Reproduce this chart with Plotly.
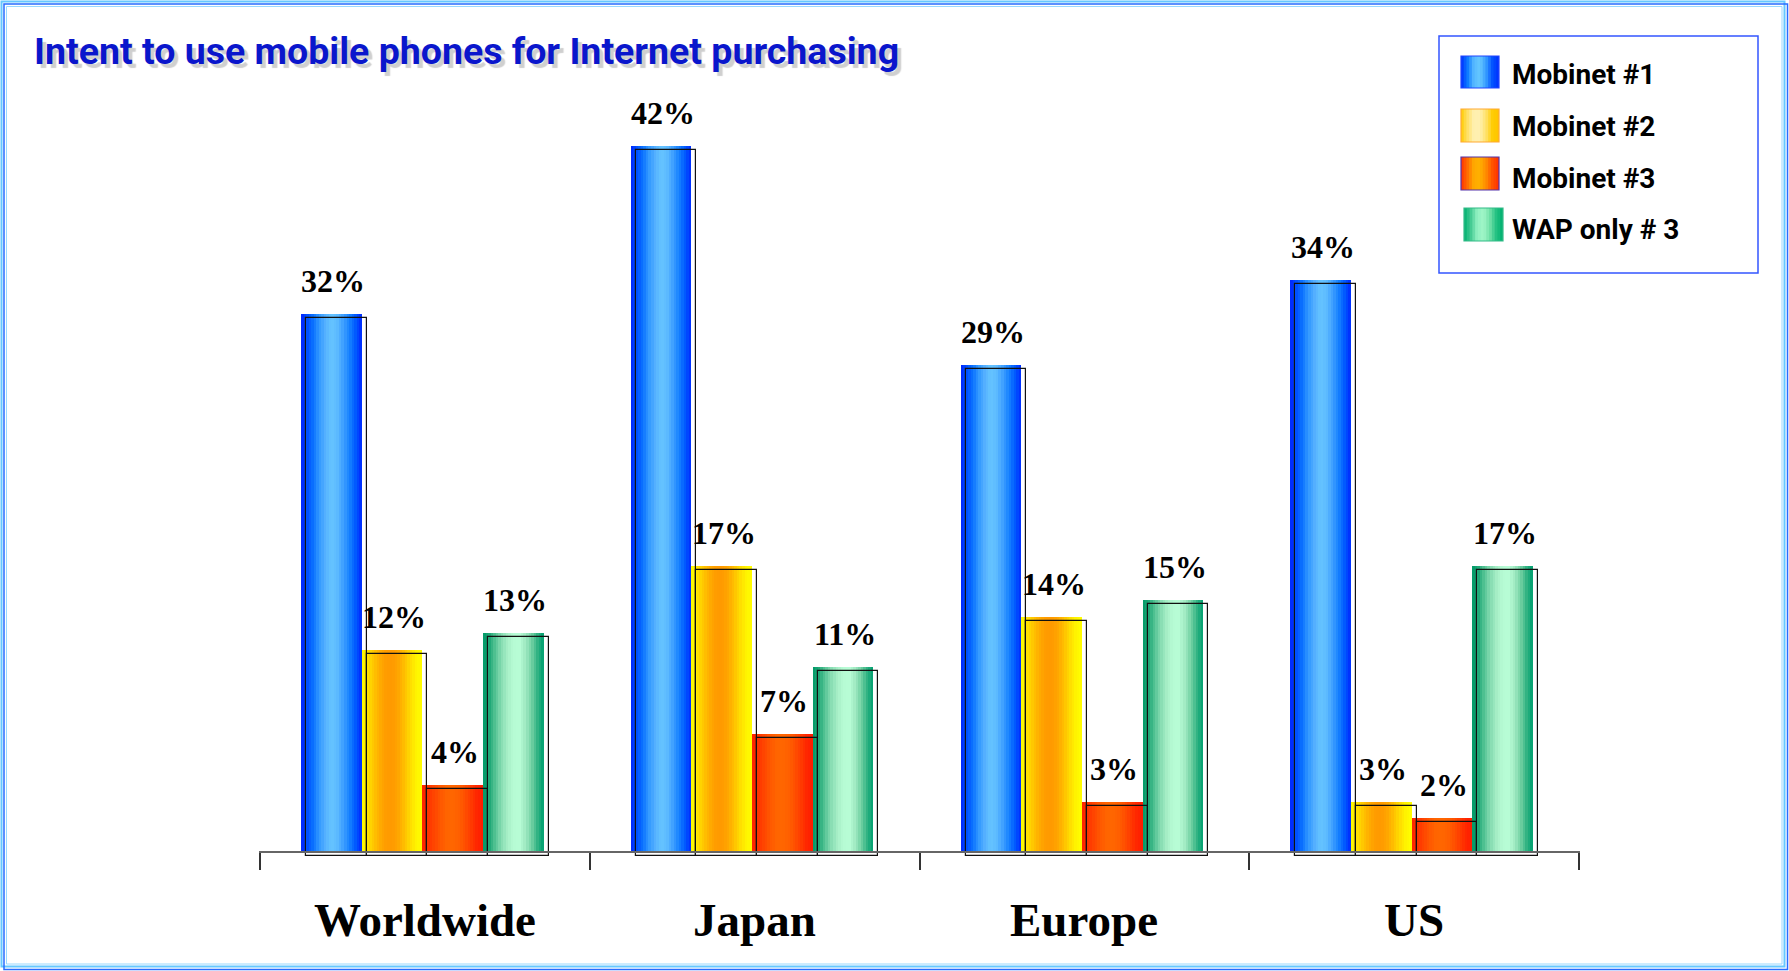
import plotly.graph_objects as go

# ---- data ----
categories = ["Worldwide", "Japan", "Europe", "US"]
series_names = ["Mobinet #1", "Mobinet #2", "Mobinet #3", "WAP only # 3"]
mobinet1 = [32, 42, 29, 34]
mobinet2 = [12, 17, 14, 3]
mobinet3 = [4, 7, 3, 2]
wap_only3 = [13, 11, 15, 17]
series_values = [mobinet1, mobinet2, mobinet3, wap_only3]
title_text = "Intent to use mobile phones for Internet purchasing"

# ---- styling ----
bar_stops = [
    ["#0022ff", "#0050ff", "#0a72ff", "#3399ff", "#55b0ff", "#66c4ff", "#5cbaff", "#3d9eff", "#1480ff", "#0058ff", "#0028ff"],
    ["#ffff00", "#ffe000", "#ffc400", "#ffac00", "#ff9c00", "#ff9900", "#ffa600", "#ffbe00", "#ffdc00", "#fff400", "#ffff00"],
    ["#ff2200", "#ff3300", "#ff4600", "#ff5800", "#ff6400", "#ff6600", "#ff6000", "#ff5000", "#ff3c00", "#ff2600", "#ff1a00"],
    ["#009966", "#1fa877", "#55c394", "#86dcb2", "#a6eec6", "#b6fbd4", "#b8fdd6", "#a0eac2", "#70d0a2", "#2fb282", "#00a070"],
]
swatch_stops = [
    ["#0030ff", "#0a78ff", "#55b8ff", "#66c8ff", "#3399ff", "#0050ff", "#0030ff"],
    ["#ffcc00", "#ffe066", "#fff0b0", "#fff0b0", "#ffe066", "#ffcc00", "#ffc400"],
    ["#ff3300", "#ff6a00", "#ffaa00", "#ffb000", "#ff8800", "#ff5000", "#ff3000"],
    ["#00b070", "#40c890", "#90f0c0", "#a0f6c8", "#70e0a8", "#20c080", "#00b070"],
]
swatch_borders = ["#2244ff", "#ffaa33", "#5533aa", "#33bb88"]

W, H = 1789, 971
ML, MR, MT, MB = 259, 209, 100, 101
PW = W - ML - MR
PH = H - MT - MB
PX_PER_PCT = 16.81
Y_MIN = -((H - MB) - 852) / PX_PER_PCT
Y_MAX = Y_MIN + PH / PX_PER_PCT
X_MIN, X_MAX = -0.503, 3.503
PX_PER_CAT = PW / (X_MAX - X_MIN)

BAR_W = 0.184
GROUP_SHIFT = -2.5 / PX_PER_CAT
N_STRIPS = 24
OUT_DX = 5 / PX_PER_CAT
OUT_DY = 4 / PX_PER_PCT


def hex_to_rgb(h):
    h = h.lstrip("#")
    return tuple(int(h[i:i + 2], 16) for i in (0, 2, 4))


def gradient(stops, n):
    cols = []
    rgb = [hex_to_rgb(c) for c in stops]
    for k in range(n):
        t = (k + 0.5) / n * (len(rgb) - 1)
        i = min(int(t), len(rgb) - 2)
        f = t - i
        c = [round(rgb[i][j] + (rgb[i + 1][j] - rgb[i][j]) * f) for j in range(3)]
        cols.append("rgb(%d,%d,%d)" % tuple(c))
    return cols


def px_x(px):
    return (px - ML) / PW


def px_y(py):
    return (H - MB - py) / PH


xs = list(range(len(categories)))
fig = go.Figure()

# gradient bars built from narrow vertical strips
for s, vals in enumerate(series_values):
    cols = gradient(bar_stops[s], N_STRIPS)
    strip = BAR_W / N_STRIPS
    for k in range(N_STRIPS):
        width = min(strip * 1.5, BAR_W - k * strip)
        fig.add_trace(go.Bar(
            x=xs, y=vals, width=width, offset=GROUP_SHIFT + (s - 2) * BAR_W + k * strip,
            marker=dict(color=cols[k], line=dict(width=0)),
            showlegend=False, hoverinfo="skip",
        ))

# thin offset outline frames drawn on top of the bars
for s, vals in enumerate(series_values):
    fig.add_trace(go.Bar(
        x=xs, y=vals, base=-OUT_DY, width=BAR_W, offset=GROUP_SHIFT + (s - 2) * BAR_W + OUT_DX,
        marker=dict(color="rgba(0,0,0,0)", line=dict(color="#111111", width=1.2)),
        showlegend=False, hoverinfo="skip",
    ))

annotations = []
# value labels above each bar
for s, vals in enumerate(series_values):
    for i, v in enumerate(vals):
        annotations.append(dict(
            x=i + GROUP_SHIFT + (s - 2) * BAR_W + BAR_W / 2, y=v, xref="x", yref="y",
            text="<b>%d%%</b>" % v, showarrow=False, yanchor="bottom", xshift=2, yshift=13,
            font=dict(family="Liberation Serif, Times New Roman, serif", size=32, color="#000000"),
        ))

# category labels under the axis
for i, c in enumerate(categories):
    annotations.append(dict(
        x=i, y=px_y(920), xref="x", yref="paper", text="<b>%s</b>" % c, showarrow=False,
        yanchor="middle", xanchor="center",
        font=dict(family="Liberation Serif, Times New Roman, serif", size=47, color="#000000"),
    ))

# title with soft grey drop shadow
title_font = "Roboto, Liberation Sans, Arial, sans-serif"
annotations.append(dict(
    x=px_x(32), y=px_y(51), xref="paper", yref="paper", text="<b>%s</b>" % title_text,
    showarrow=False, xanchor="left", yanchor="middle",
    font=dict(family=title_font, size=37.5, color="#0a16cc", shadow="4px 4px 1px #cfcfcf"),
))

shapes = []
# page frame
shapes.append(dict(type="rect", xref="paper", yref="paper", x0=px_x(1.5), x1=px_x(1784.5),
                   y0=px_y(966.5), y1=px_y(1.5), line=dict(color="#66c8ff", width=2)))
shapes.append(dict(type="rect", xref="paper", yref="paper", x0=px_x(4), x1=px_x(1787.5),
                   y0=px_y(969.5), y1=px_y(4), line=dict(color="#2a6cff", width=1.5)))
shapes.append(dict(type="rect", xref="paper", yref="paper", x0=px_x(6.5), x1=px_x(1782),
                   y0=px_y(964), y1=px_y(6.5), line=dict(color="#9ad8ff", width=1)))

# legend box
shapes.append(dict(type="rect", xref="paper", yref="paper", x0=px_x(1439), x1=px_x(1758),
                   y0=px_y(273), y1=px_y(36), line=dict(color="#3355ff", width=1.5)))
swatch_boxes = [(1461, 1499, 56, 88), (1461, 1499, 109, 142), (1461, 1499, 157, 190), (1464, 1503, 208, 241)]
legend_text_y = [75, 127, 178, 229]
n_sw = 14
for j, (x0, x1, y0, y1) in enumerate(swatch_boxes):
    cols = gradient(swatch_stops[j], n_sw)
    sw = (x1 - x0) / n_sw
    for k in range(n_sw):
        shapes.append(dict(type="rect", xref="paper", yref="paper",
                           x0=px_x(x0 + k * sw), x1=px_x(min(x0 + (k + 1.4) * sw, x1)),
                           y0=px_y(y1), y1=px_y(y0), line=dict(width=0), fillcolor=cols[k]))
    shapes.append(dict(type="rect", xref="paper", yref="paper", x0=px_x(x0), x1=px_x(x1),
                       y0=px_y(y1), y1=px_y(y0), line=dict(color=swatch_borders[j], width=1.2)))
    annotations.append(dict(
        x=px_x(1510), y=px_y(legend_text_y[j]), xref="paper", yref="paper",
        text="<b>%s</b>" % series_names[j], showarrow=False, xanchor="left", yanchor="middle",
        font=dict(family=title_font, size=28, color="#000000"),
    ))

fig.update_layout(
    width=W, height=H,
    margin=dict(l=ML, r=MR, t=MT, b=MB, pad=0),
    paper_bgcolor="#ffffff", plot_bgcolor="#ffffff",
    barmode="overlay", bargap=0,
    showlegend=False,
    annotations=annotations, shapes=shapes,
    xaxis=dict(
        range=[X_MIN, X_MAX], anchor="free", position=-Y_MIN / (Y_MAX - Y_MIN),
        showgrid=False, zeroline=False, showline=True, linecolor="#666666", linewidth=2,
        tickmode="array", tickvals=[-0.5, 0.5, 1.5, 2.5, 3.5], ticktext=[""] * 5,
        ticks="outside", ticklen=17, tickwidth=1.5, tickcolor="#333333",
        fixedrange=True,
    ),
    yaxis=dict(range=[Y_MIN, Y_MAX], visible=False, fixedrange=True),
)

fig.write_html("out.html", config={"displayModeBar": False})
